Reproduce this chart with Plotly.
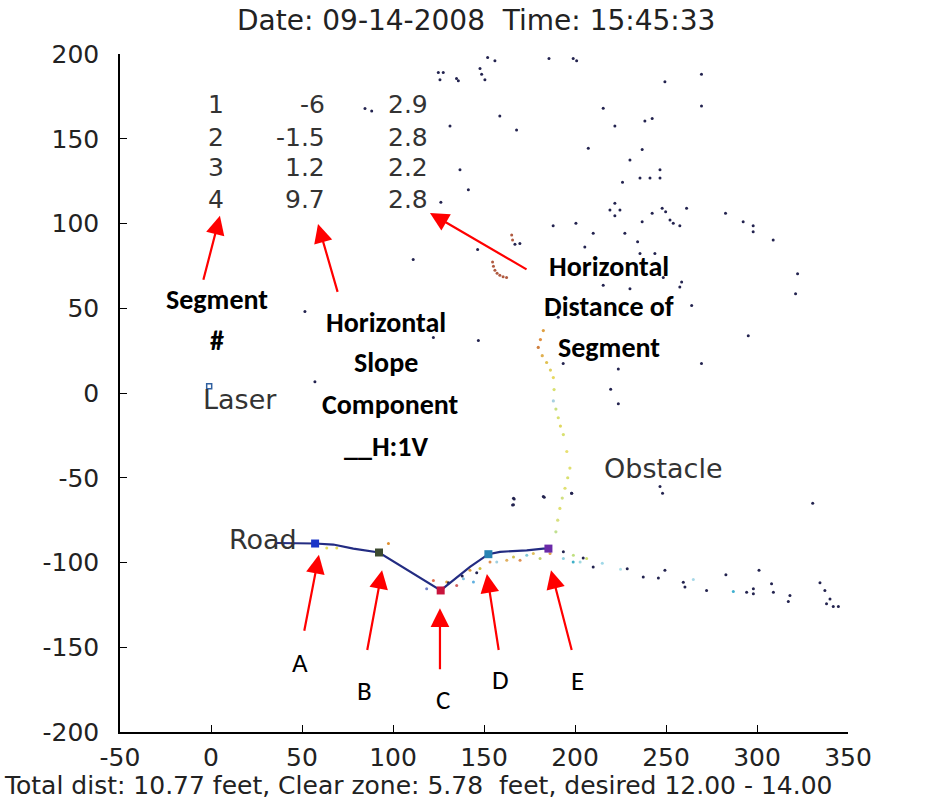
import plotly.graph_objects as go

# ---------------- data ----------------
title_text = "Date: 09-14-2008  Time: 15:45:33"
footer_text = "Total dist: 10.77 feet, Clear zone: 5.78  feet, desired 12.00 - 14.00"

x_ticks = [-50, 0, 50, 100, 150, 200, 250, 300, 350]
x_tick_text = ["-50", "0", "50", "100", "150", "200", "250", "300", "350"]
y_ticks = [-200, -150, -100, -50, 0, 50, 100, 150, 200]
y_tick_text = ["-200", "-150", "-100", "-50", "0", "50", "100", "150", "200"]

# road profile (inches)
road_x = [36, 57.2, 67.2, 78.2, 92.3, 126.2, 142.3, 152.4, 158.8, 173.5, 182.6, 185.4]
road_y = [-88.5, -88.8, -89.4, -91.8, -94.1, -116.5, -102.6, -95.1, -93.7, -92.8, -91.8, -91.8]

# segment break points A..E
pt_labels = ["A", "B", "C", "D", "E"]
pt_x = [57.2, 92.3, 126.2, 152.4, 185.4]
pt_y = [-88.8, -94.1, -116.5, -95.1, -91.8]
pt_colors = ["#1a35c8", "#3c4a30", "#c8143c", "#2a84b4", "#6a2aa8"]

# laser position
laser_x = [-1]
laser_y = [4]

# segment table
seg_ids = ["1", "2", "3", "4"]
seg_slopes = ["-6", "-1.5", "1.2", "9.7"]
seg_dists = ["2.9", "2.8", "2.2", "2.8"]

# scattered laser returns (dark)
cloud_x = [152.0, 156.0, 185.7, 199.0, 200.9, 124.9, 127.6, 125.8, 147.8, 148.7, 150.5, 134.9,
           135.9, 269.5, 249.4, 269.5, 215.5, 131.3, 158.7, 167.9, 221.9, 238.4, 242.4, 207.3,
           236.9, 230.2, 136.8, 141.4, 235.7, 241.2, 246.7, 246.7, 226.1, 126.3, 221.9, 219.2,
           224.7, 221.9, 247.9, 249.8, 261.3, 242.4, 236.9, 252.2, 254.0, 257.6, 282.7, 292.4,
           297.9, 297.9, 308.9, 188.0, 200.5, 210.0, 227.4, 234.4, 111.1, 146.5, 167.0, 169.7,
           205.4, 235.7, 243.9, 248.5, 258.6, 257.6, 215.5, 230.2, 322.3, 321.2, 295.2, 269.5,
           193.5, 190.8, 264.1, 84.6, 88.3, 51.6, 122.2, 146.9, 57.1, 223.8, 219.6, 223.8,
           246.7, 248.1, 330.6, 198.1, 166.6, 165.7, 183.1,
           204.5, 210.0, 228.7, 249.4, 301.1, 282.9, 272.3, 298.0, 298.0, 309.0, 318.1, 334.6,
           337.3, 340.1, 341.9, 344.7, 338.2, 259.5, 260.4, 294.3, 308.0, 317.2, 245.8, 237.5,
           166.2, 166.2, 182.6, 198.2, 193.6, 130.5, 138.0, 146.0]
cloud_y = [198.0, 196.0, 197.4, 197.4, 196.0, 189.1, 189.1, 184.8, 191.5, 188.1, 184.8, 185.6,
           184.2, 188.1, 183.6, 169.3, 168.0, 157.5, 163.4, 155.1, 157.5, 160.4, 162.0, 144.4,
           143.6, 137.5, 131.7, 119.9, 126.8, 126.8, 131.7, 126.8, 124.4, 112.6, 112.0, 108.0,
           108.0, 104.5, 109.0, 107.0, 109.0, 106.0, 101.1, 102.1, 100.1, 98.7, 106.0, 101.1,
           98.7, 95.2, 90.2, 98.7, 100.1, 94.2, 94.2, 89.2, 78.7, 84.7, 87.8, 88.2,
           86.2, 82.3, 82.3, 68.1, 65.5, 62.5, 63.5, 61.5, 70.4, 58.6, 33.8, 17.4,
           17.4, 44.7, 51.6, 167.8, 166.3, 48.1, 32.8, 30.9, 6.7, 14.1, 2.2, -6.3,
           -55.2, -59.2, -65.1, -59.2, -62.5, -66.1, -61.5,
           -97.3, -102.7, -103.7, -104.6, -104.6, -107.2, -116.5, -115.5, -118.5, -117.5, -119.5, -112.0,
           -116.5, -121.5, -126.0, -126.0, -124.4, -111.6, -114.5, -117.5, -112.6, -123.0, -109.2, -108.6,
           -62.1, -66.0, -61.1, -59.1, -93.7, -112.0, -108.0, -106.0]

# obstacle face returns (faint yellow / orange)
obst_x = [182.6, 181.0, 179.8, 182.0, 184.4, 186.5, 188.1, 188.5, 188.1, 189.5, 190.8, 192.0,
          193.6, 195.5, 197.2, 196.0, 194.5, 193.0, 191.7, 190.5, 189.5]
obst_y = [36.8, 31.5, 26.9, 22.0, 18.0, 13.5, 9.1, 2.0, -4.7, -9.5, -14.6, -19.5,
          -24.5, -34.5, -44.3, -50.0, -56.2, -62.0, -68.1, -75.0, -81.9]
obst_colors = ["#e0a040", "#e09040", "#d08040", "#e0b050", "#e0c050", "#e0d060", "#e8d860",
               "#d8e070", "#a8d0e0", "#c8e080", "#d8e070", "#e0d860", "#d8e070", "#e8e070",
               "#e0e070", "#d8e070", "#e0e070", "#d0e080", "#e0e070", "#d8e080", "#c0e090"]

# curved reflections (faint orange-red)
refl_x = [154.7, 155.2, 156.0, 157.2, 158.7, 160.5, 162.4, 165.2, 165.7]
refl_y = [77.3, 74.8, 72.4, 70.6, 69.4, 68.6, 68.1, 93.2, 90.2]

# colored returns below the road
ground_x = [63.6, 69.1, 97.5, 39.8, 45.3, 122.2, 118.5, 129.5, 135.0, 138.7, 142.3, 144.2,
            147.8, 153.3, 157.0, 162.5, 166.2, 169.8, 173.5, 177.1, 180.8, 186.3, 193.6,
            199.1, 202.8, 206.4, 199.0, 287.0, 215.0, 225.0, 265.0]
ground_y = [-91.4, -91.4, -88.8, -88.8, -88.8, -110.6, -115.5, -111.5, -113.5, -109.6, -104.6, -111.5,
            -103.6, -99.7, -99.7, -98.7, -96.7, -98.7, -95.7, -94.7, -97.7, -94.7, -97.7,
            -95.7, -99.7, -97.7, -99.7, -117.1, -100.5, -104.0, -110.0]
ground_colors = ["#e8e060", "#e8e060", "#e09030", "#40a0d8", "#40a0d8", "#e07050", "#7080c8",
                 "#e0a040", "#d06060", "#80c0e0", "#e0a040", "#60b0e0", "#d0c040", "#e09050",
                 "#a0d0e0", "#e0b060", "#d0c050", "#e09050", "#80c8d8", "#e0c060", "#c0d070",
                 "#e0a050", "#90d0e0", "#c0e080", "#a0d8e0", "#d0e070", "#40b0c8", "#40b0d0",
                 "#a0d8e8", "#b0e0e8", "#a8d8e8"]

# text labels
bold_lines = ["Segment", "#", "Horizontal", "Slope", "Component", "__H:1V",
              "Horizontal", "Distance of", "Segment"]
scene_labels = ["Laser", "Road", "Obstacle"]

# ---------------- layout helpers (positions) ----------------
table_row_y = [170.3, 150.6, 132.8, 113.9]
bold_pos = [(3.3, 55.2), (3.3, 30.9), (96.2, 41.5), (96.2, 17.8), (98.4, -6.5), (96.2, -31.5),
            (218.7, 74.8), (218.7, 51.0), (218.7, 26.7)]
scene_pos = [(-5.5, -4.0), (8.6, -86.6), (214.7, -44.7)]
pt_label_pos = [(48.9, -159.1), (84.6, -175.7), (127.5, -181.0), (158.8, -169.1), (201.1, -169.7)]
# arrows: head (x, y), tail (ax, ay)
arrows = [((4.9, 104.5), (-4.4, 65.9)), ((58.8, 99.7), (69.8, 58.8)), ((120.3, 106.2), (174.2, 72.4)),
          ((59.3, -95.5), (51.1, -141.2)), ((94.0, -104.5), (85.7, -152.5)),
          ((125.8, -127.0), (125.8, -163.8)), ((151.6, -106.8), (158.2, -152.5)),
          ((186.8, -104.5), (198.4, -152.5))]

MAT = "DejaVu Sans"
CAL = "Carlito, Lato, Liberation Sans"

fig = go.Figure()

fig.add_trace(go.Scatter(x=obst_x, y=obst_y, mode="markers",
                         marker=dict(size=3.2, color=obst_colors), hoverinfo="skip"))
fig.add_trace(go.Scatter(x=refl_x, y=refl_y, mode="markers",
                         marker=dict(size=3, color="#b05a40"), hoverinfo="skip"))
fig.add_trace(go.Scatter(x=ground_x, y=ground_y, mode="markers",
                         marker=dict(size=3, color=ground_colors), hoverinfo="skip"))
fig.add_trace(go.Scatter(x=cloud_x, y=cloud_y, mode="markers",
                         marker=dict(size=3, color="#23234f"), hoverinfo="skip"))
fig.add_trace(go.Scatter(x=road_x, y=road_y, mode="lines",
                         line=dict(color="#232c82", width=2.2), hoverinfo="skip"))
fig.add_trace(go.Scatter(x=pt_x, y=pt_y, mode="markers",
                         marker=dict(size=8, symbol="square", color=pt_colors), hoverinfo="skip"))
fig.add_trace(go.Scatter(x=laser_x, y=laser_y, mode="markers",
                         marker=dict(size=5, symbol="square-open", color="#3060a0",
                                     line=dict(width=1.5)), hoverinfo="skip"))

ann = []
# title and footer
ann.append(dict(text=title_text, xref="paper", yref="paper", x=0.489, y=1.05,
                xanchor="center", yanchor="middle", showarrow=False,
                font=dict(family=MAT, size=28, color="#222")))
ann.append(dict(text=footer_text, xref="paper", yref="paper", x=-0.162, y=-0.079,
                xanchor="left", yanchor="middle", showarrow=False,
                font=dict(family=MAT, size=25, color="#222")))
# table
for i in range(4):
    ann.append(dict(text=seg_ids[i], x=2.7, y=table_row_y[i], xanchor="center", yanchor="middle",
                    showarrow=False, font=dict(family=MAT, size=25, color="#333")))
    ann.append(dict(text=seg_slopes[i], x=63.6, y=table_row_y[i], xanchor="right", yanchor="middle",
                    showarrow=False, font=dict(family=MAT, size=25, color="#333")))
    ann.append(dict(text=seg_dists[i], x=120.3, y=table_row_y[i], xanchor="right", yanchor="middle",
                    showarrow=False, font=dict(family=MAT, size=25, color="#333")))
# scene labels
for t, (px, py) in zip(scene_labels, scene_pos):
    ann.append(dict(text=t, x=px, y=py, xanchor="left", yanchor="middle", showarrow=False,
                    font=dict(family=MAT, size=27, color="#333")))
# bold callouts
for t, (px, py) in zip(bold_lines, bold_pos):
    ann.append(dict(text="<b>" + t + "</b>", x=px, y=py, xanchor="center", yanchor="middle",
                    showarrow=False, font=dict(family=CAL, size=28, color="#000")))
# point letters
for t, (px, py) in zip(pt_labels, pt_label_pos):
    ann.append(dict(text=t, x=px, y=py, xanchor="center", yanchor="middle", showarrow=False,
                    font=dict(family=CAL, size=27, color="#000")))
# arrows
for (hx, hy), (tx, ty) in arrows:
    ann.append(dict(text="", x=hx, y=hy, ax=tx, ay=ty, xref="x", yref="y", axref="x", ayref="y",
                    showarrow=True, arrowhead=2, arrowsize=1.7, arrowwidth=2.2,
                    arrowcolor="#ff0000", standoff=0))

fig.update_layout(
    width=935, height=802,
    margin=dict(l=120, r=87, t=54, b=70),
    paper_bgcolor="white", plot_bgcolor="white",
    showlegend=False,
    annotations=ann,
    xaxis=dict(range=[-50, 350], tickvals=x_ticks, ticktext=x_tick_text, ticks="inside",
               ticklen=7, tickwidth=1, tickcolor="black", showline=True, linecolor="black",
               linewidth=1.5, showgrid=False, zeroline=False, ticklabelstandoff=2,
               tickfont=dict(family=MAT, size=25, color="#222")),
    yaxis=dict(range=[-200, 200], tickvals=y_ticks, ticktext=y_tick_text, ticks="inside",
               ticklen=7, tickwidth=1, tickcolor="black", showline=True, linecolor="black",
               linewidth=1.5, showgrid=False, zeroline=False, ticklabelstandoff=14,
               tickfont=dict(family=MAT, size=25, color="#222")),
)

fig.write_html("out.html")
